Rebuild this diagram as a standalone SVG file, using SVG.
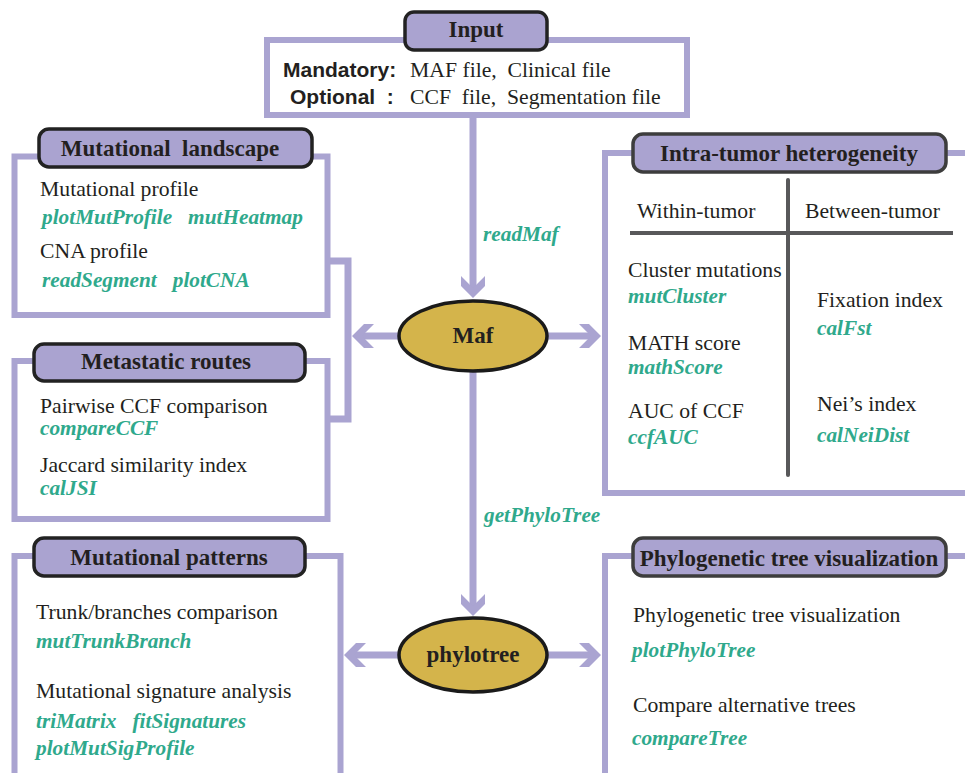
<svg xmlns="http://www.w3.org/2000/svg" width="965" height="773" viewBox="0 0 965 773" xml:space="preserve">
<style>
text{white-space:pre}
.box{fill:#fff;stroke:#aaa4d1;stroke-width:6}
.ttl{fill:#aaa3d0;stroke:#222;stroke-width:3.5}
.ttl2{fill:#aaa3d0;stroke:#3d3d3d;stroke-width:3.5}
.tt{font-family:"Liberation Serif",serif;font-weight:bold;font-size:23px;fill:#231f20;text-anchor:middle}
.t{font-family:"Liberation Serif",serif;font-size:21.7px;fill:#231f20}
.g{font-family:"Liberation Serif",serif;font-size:21.3px;font-weight:bold;font-style:italic;fill:#2fa98c}
.s{font-family:"Liberation Sans",sans-serif;font-size:21px;font-weight:bold;fill:#231f20}
.con{stroke:#aaa4d1;stroke-width:7;fill:none}
.ell{fill:#d4b44b;stroke:#1a1a1a;stroke-width:3.5}
.div{stroke:#58585a;stroke-width:4}
</style>
<defs>
<marker id="ah" viewBox="-24 -13 25 26" refX="-4" refY="0" markerWidth="25" markerHeight="26" markerUnits="userSpaceOnUse" orient="auto">
<path d="M0,0 L-12,-12 L-22,-12 L-10,0 L-22,12 L-12,12 Z" fill="#aaa4d1"/>
</marker>
</defs>

<g id="connectors">
<line class="con" x1="473" y1="117" x2="473" y2="294" marker-end="url(#ah)"/>
<line class="con" x1="400" y1="336" x2="356" y2="336" marker-end="url(#ah)"/>
<line class="con" x1="546" y1="336" x2="597" y2="336" marker-end="url(#ah)"/>
<line class="con" x1="473" y1="372" x2="473" y2="612" marker-end="url(#ah)"/>
<line class="con" x1="400" y1="655" x2="348" y2="655" marker-end="url(#ah)"/>
<line class="con" x1="546" y1="655" x2="597" y2="655" marker-end="url(#ah)"/>
<polyline class="con" stroke-width="6" points="327,261 348,261 348,419 327,419"/>
<text class="g" x="483" y="241">readMaf</text>
<text class="g" x="484" y="522">getPhyloTree</text>
</g>

<g id="input">
<rect class="box" x="267" y="40" width="420" height="75"/>
<rect class="ttl" x="405" y="12" width="142" height="38" rx="9"/>
<text class="tt" x="476" y="37">Input</text>
<text class="s" x="283" y="77">Mandatory:</text>
<text class="t" x="410" y="77">MAF file,  Clinical file</text>
<text class="s" x="290" y="104">Optional  :</text>
<text class="t" x="410" y="104">CCF  file,  Segmentation file</text>
</g>

<g id="mutational-landscape">
<rect class="box" x="14.5" y="156.5" width="313" height="158.5"/>
<rect class="ttl" x="39" y="129" width="273" height="38" rx="10"/>
<text class="tt" x="170" y="156">Mutational  landscape</text>
<text class="t" x="40" y="196">Mutational profile</text>
<text class="g" x="42" y="224">plotMutProfile   mutHeatmap</text>
<text class="t" x="40" y="258" fill="#333">CNA profile</text>
<text class="g" x="42" y="287">readSegment   plotCNA</text>
</g>

<g id="metastatic-routes">
<rect class="box" x="14.5" y="361" width="313" height="158"/>
<rect class="ttl" x="34" y="344" width="271" height="37" rx="10"/>
<text class="tt" x="166" y="369">Metastatic routes</text>
<text class="t" x="40" y="413">Pairwise CCF comparison</text>
<text class="g" x="40" y="435">compareCCF</text>
<text class="t" x="40" y="472">Jaccard similarity index</text>
<text class="g" x="40" y="495">calJSI</text>
</g>

<g id="maf">
<ellipse class="ell" cx="473" cy="336" rx="74" ry="35"/>
<text class="tt" x="473" y="343">Maf</text>
</g>

<g id="intra-tumor-heterogeneity">
<rect class="box" x="605" y="153" width="380" height="340"/>
<rect class="ttl2" x="633" y="134" width="313" height="38" rx="10"/>
<text class="tt" x="789" y="161">Intra-tumor heterogeneity</text>
<line class="div" x1="788" y1="180" x2="788" y2="475" stroke-linecap="round"/>
<line class="div" x1="630" y1="233" x2="953" y2="233"/>
<text class="t" x="637" y="218">Within-tumor</text>
<text class="t" x="805" y="218">Between-tumor</text>
<text class="t" x="628" y="277">Cluster mutations</text>
<text class="g" x="628" y="303">mutCluster</text>
<text class="t" x="628" y="350">MATH score</text>
<text class="g" x="628" y="374">mathScore</text>
<text class="t" x="628" y="418">AUC of CCF</text>
<text class="g" x="628" y="444">ccfAUC</text>
<text class="t" x="817" y="307">Fixation index</text>
<text class="g" x="817" y="335">calFst</text>
<text class="t" x="817" y="411">Nei’s index</text>
<text class="g" x="817" y="442">calNeiDist</text>
</g>

<g id="mutational-patterns">
<rect class="box" x="14.5" y="556" width="326" height="230"/>
<rect class="ttl" x="34" y="538" width="271" height="38" rx="10"/>
<text class="tt" x="169" y="565">Mutational patterns</text>
<text class="t" x="36" y="619">Trunk/branches comparison</text>
<text class="g" x="36" y="648">mutTrunkBranch</text>
<text class="t" x="36" y="698">Mutational signature analysis</text>
<text class="g" x="36" y="728">triMatrix   fitSignatures</text>
<text class="g" x="36" y="755">plotMutSigProfile</text>
</g>

<g id="phylotree">
<ellipse class="ell" cx="473" cy="655" rx="74" ry="37"/>
<text class="tt" x="473" y="662">phylotree</text>
</g>

<g id="phylogenetic-tree-visualization">
<rect class="box" x="605" y="556" width="380" height="230"/>
<rect class="ttl2" x="633" y="538" width="313" height="38" rx="10"/>
<text class="tt" x="789" y="566">Phylogenetic tree visualization</text>
<text class="t" x="633" y="622">Phylogenetic tree visualization</text>
<text class="g" x="632" y="657">plotPhyloTree</text>
<text class="t" x="633" y="712">Compare alternative trees</text>
<text class="g" x="632" y="745">compareTree</text>
</g>
</svg>
